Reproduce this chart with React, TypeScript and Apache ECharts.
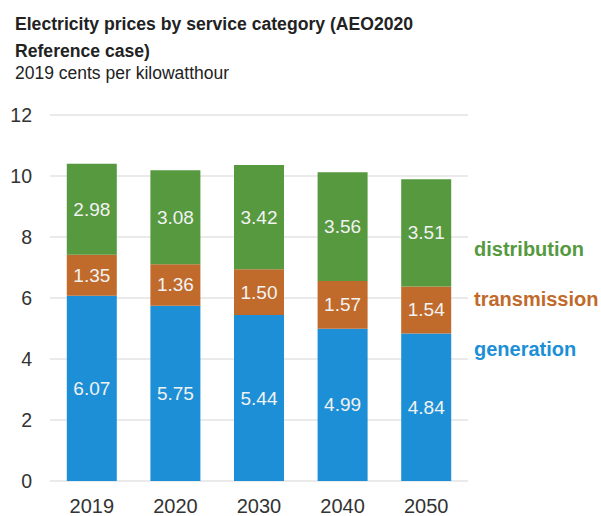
import React, { useEffect, useRef } from "react";
import * as echarts from "echarts";

const categories = ["2019", "2020", "2030", "2040", "2050"];
const generation = [6.07, 5.75, 5.44, 4.99, 4.84];
const transmission = [1.35, 1.36, 1.5, 1.57, 1.54];
const distribution = [2.98, 3.08, 3.42, 3.56, 3.51];
const yTicks = { min: 0, max: 12, interval: 2 };

const FONT = "Liberation Sans, Arial, sans-serif";
const BLUE = "#1c8fd6";
const ORANGE = "#c06a2b";
const GREEN = "#56993f";

export default function App() {
  const ref = useRef<HTMLDivElement>(null);
  useEffect(() => {
    if (!ref.current) return;
    const chart = echarts.init(ref.current, undefined, { renderer: "svg" });
    const label = {
      show: true,
      position: "inside",
      color: "#f2f2f2",
      fontSize: 19,
      fontFamily: FONT,
      formatter: (p: any) => p.value.toFixed(2),
    };
    const mk = (name: string, data: number[], color: string) => ({
      name,
      type: "bar",
      stack: "total",
      data,
      barWidth: 50,
      itemStyle: { color },
      label,
    });
    chart.setOption({
      animation: false,
      textStyle: { fontFamily: FONT },
      title: [
        {
          text: "Electricity prices by service category (AEO2020\nReference case)",
          left: 10,
          top: 5,
          textStyle: { fontSize: 17.6, fontWeight: "bold", color: "#222", lineHeight: 27, fontFamily: FONT },
        },
        {
          text: "2019 cents per kilowatthour",
          left: 10,
          top: 59,
          textStyle: { fontSize: 17.5, fontWeight: "normal", color: "#222", fontFamily: FONT },
        },
      ],
      grid: { left: 50, right: 133, top: 115, bottom: 33, containLabel: false },
      xAxis: {
        type: "category",
        data: categories,
        axisLine: { show: false },
        axisTick: { show: false },
        axisLabel: { color: "#333", fontSize: 20, margin: 15, fontFamily: FONT },
      },
      yAxis: {
        type: "value",
        min: yTicks.min,
        max: yTicks.max,
        interval: yTicks.interval,
        axisLine: { show: false },
        axisTick: { show: false },
        axisLabel: { color: "#333", fontSize: 19.5, margin: 18, fontFamily: FONT },
        splitLine: { lineStyle: { color: "#e3e3e3", width: 1.5 } },
      },
      series: [
        mk("generation", generation, BLUE),
        mk("transmission", transmission, ORANGE),
        mk("distribution", distribution, GREEN),
      ],
      graphic: [
        { type: "text", left: 474, top: 239, style: { text: "distribution", fill: GREEN, font: `bold 20px ${FONT}` } },
        { type: "text", left: 474, top: 289, style: { text: "transmission", fill: ORANGE, font: `bold 20px ${FONT}` } },
        { type: "text", left: 474, top: 339, style: { text: "generation", fill: BLUE, font: `bold 20px ${FONT}` } },
      ],
    });
    return () => chart.dispose();
  }, []);
  return <div ref={ref} style={{ width: 601, height: 516, position: "absolute", left: 0, top: 0 }} />;
}
